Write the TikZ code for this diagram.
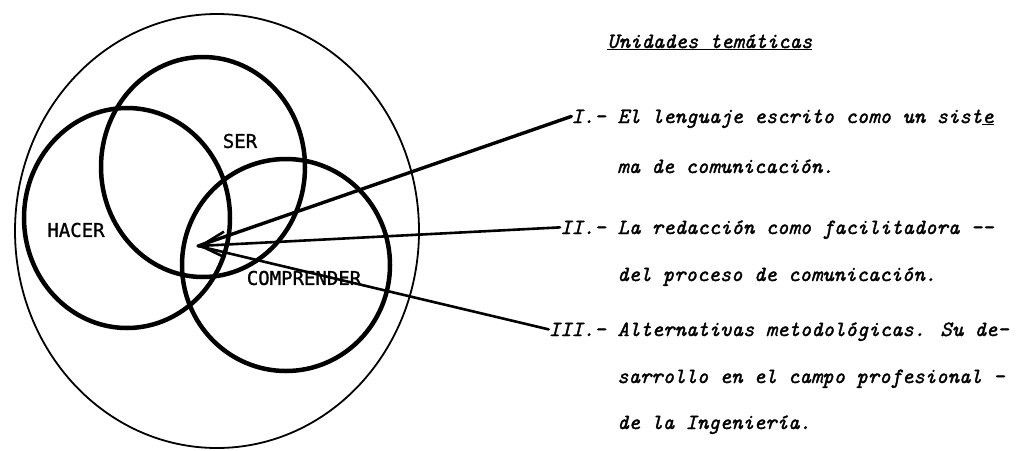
\documentclass[tikz,border=0pt]{standalone}
\usepackage{fontspec}
\newfontfamily\lettering[FakeBold=1.2]{DejaVu Sans Mono}
\newfontfamily\typist[FakeBold=1.6]{Latin Modern Mono}
\usetikzlibrary{positioning, arrows.meta}

\begin{document}
\begin{tikzpicture}[x=1pt, y=-1pt,
  venn/.style={line width=4.5pt},
  region/.style={font=\lettering\fontsize{19}{19}\selectfont, inner sep=0pt},
  item/.style={font=\typist\itshape\fontsize{21.7}{26}\selectfont, inner sep=0pt},
  pointer/.style={line width=2.6pt, line cap=round}]
  \useasboundingbox (0,0) rectangle (1024,450);

  \draw[line width=1.8pt] (217,231) ellipse [x radius=202, y radius=217];
  \draw[venn] (203,167) ellipse [x radius=102, y radius=110];
  \draw[venn] (127,218) ellipse [x radius=103, y radius=110];
  \draw[venn] (286,265) ellipse [x radius=104, y radius=106];

  \node[region] (ser) at (240,141) {SER};
  \node[region] (hacer) at (76,230) {HACER};
  \node[region] (comp) at (304,278) {COMPRENDER};

  \node[item, anchor=base west] (title) at (607,48) {\underline{Unidades temáticas}};

  \node[item, anchor=base east] (n1) at (606,123) {I.-};
  \node[item, base right=11.4pt of n1] (t1) {El lenguaje escrito como un sist\underline{e}};
  \node[item, anchor=base west] (t1b) at (617,173) {ma de comunicación.};

  \node[item, anchor=base east] (n2) at (606,234) {II.-};
  \node[item, base right=11.4pt of n2] (t2) {La redacción como facilitadora --};
  \node[item, anchor=base west] (t2b) at (617,281) {del proceso de comunicación.};

  \node[item, anchor=base east] (n3) at (606,336) {III.-};
  \node[item, base right=11.4pt of n3] (t3) {Alternativas metodológicas. Su de-};
  \node[item, anchor=base west] (t3b) at (617,383) {sarrollo en el campo profesional -};
  \node[item, anchor=base west] (t3c) at (617,429) {de la Ingeniería.};

  \coordinate (tip) at (198,246);

  \draw[pointer, line width=3.4pt] (n1.west) -- (tip);
  \draw[pointer, -{Straight Barb[length=24pt, width=26pt]}] (n2.west) -- (tip);
  \draw[pointer] (n3.west) -- (tip);
\end{tikzpicture}
\end{document}
